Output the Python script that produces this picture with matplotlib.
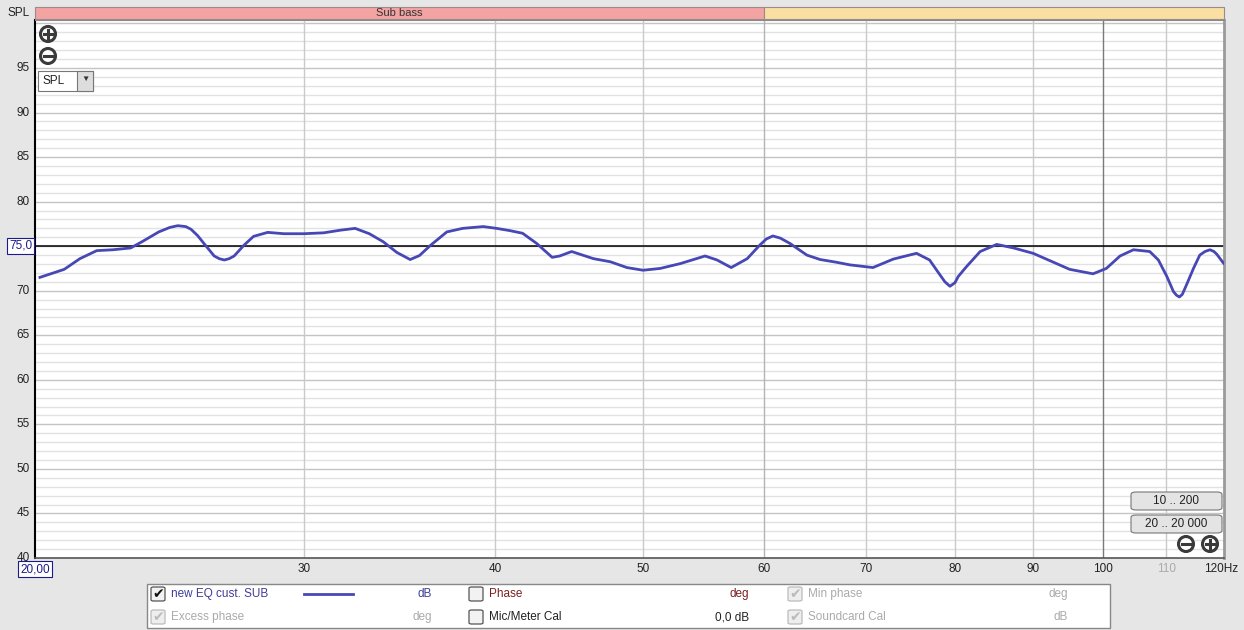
import math
import matplotlib
matplotlib.use("Agg")
import matplotlib.pyplot as plt
from matplotlib.patches import Rectangle, FancyBboxPatch, Ellipse
from matplotlib.ticker import FixedLocator, NullFormatter

# frequency response (Hz, dB SPL)
freq = [20.15, 20.9, 21.4, 21.95, 22.5, 23.1, 23.5, 24.1, 24.5, 24.8,
        25.1, 25.3, 25.55, 25.8, 26.2, 26.4, 26.6, 26.8, 27.0, 27.4,
        27.8, 28.4, 29.1, 30.0, 30.9, 31.7, 32.4, 33.1, 33.8, 34.5,
        35.2, 35.7, 36.3, 37.2, 38.1, 39.3, 40.1, 40.9, 41.7, 42.6,
        43.6, 44.1, 44.9, 46.4, 47.6, 48.8, 50.0, 51.3, 52.9, 54.9,
        55.9, 57.1, 58.5, 59.6, 60.2, 60.8, 61.5, 62.4, 64.0, 65.3,
        66.9, 68.3, 70.7, 72.9, 75.5, 77.0, 78.2, 78.8, 79.4, 80.0,
        80.4, 81.4, 83.1, 85.2, 87.4, 90.0, 92.8, 95.1, 98.5, 100.5,
        102.6, 104.7, 107.3, 108.7, 110.1, 111.2, 111.7, 112.2, 112.7, 113.5,
        114.6, 115.7, 116.6, 117.5, 118.2, 118.7, 119.9]
spl = [71.5, 72.4, 73.6, 74.5, 74.6, 74.8, 75.5, 76.6, 77.1, 77.3,
       77.2, 76.9, 76.2, 75.3, 73.9, 73.6, 73.45, 73.6, 73.9, 75.1,
       76.1, 76.55, 76.4, 76.4, 76.5, 76.8, 77.0, 76.4, 75.5, 74.3,
       73.5, 73.95, 75.1, 76.6, 77.0, 77.2, 77.0, 76.75, 76.45, 75.3,
       73.75, 73.9, 74.4, 73.6, 73.25, 72.6, 72.3, 72.5, 73.05, 73.9,
       73.45, 72.6, 73.6, 75.1, 75.8, 76.15, 75.9, 75.3, 74.0, 73.5,
       73.2, 72.9, 72.6, 73.55, 74.2, 73.45, 71.8, 71.0, 70.5, 70.9,
       71.6, 72.7, 74.4, 75.2, 74.8, 74.2, 73.2, 72.4, 71.9, 72.5,
       73.9, 74.6, 74.4, 73.45, 71.6, 69.9, 69.5, 69.3, 69.6, 70.8,
       72.5, 74.0, 74.4, 74.6, 74.4, 74.1, 73.1]

x_ticks = [30, 40, 50, 60, 70, 80, 90, 100, 110]
y_ticks = [40, 45, 50, 55, 60, 65, 70, 80, 85, 90, 95]
ref_level = 75.0

W, H = 1244, 630
fig = plt.figure(figsize=(W / 100, H / 100), dpi=100, facecolor="#e6e6e6")
plt.rcParams["font.family"] = ["Liberation Sans", "DejaVu Sans"]


def fx(px):
    return px / W


def fy(py):
    return 1 - py / H


# main plot area
L, R, T, B = 35, 1224, 20, 558
ax = fig.add_axes([fx(L), fy(B), fx(R - L), (B - T) / H])
ax.set_facecolor("white")
ax.set_xscale("log")
ax.set_xlim(20, 120)
ax.set_ylim(40, 40 + (B - T) / 8.909)

for y in range(41, 101):
    c = "#c4c4c4" if y % 5 == 0 else "#e2e2e2"
    ax.axhline(y, color=c, lw=1, zorder=1)
for xv in x_ticks:
    c = "#7a7a7a" if xv == 100 else ("#b4b4b4" if xv == 60 else "#cacaca")
    ax.axvline(xv, color=c, lw=1, zorder=1)

ax.axhline(ref_level, color="black", lw=1.1, zorder=2)
ax.plot(freq, spl, color="#4747b5", lw=2.0, zorder=3, solid_joinstyle="round")

ax.xaxis.set_major_locator(FixedLocator([]))
ax.xaxis.set_minor_locator(FixedLocator([]))
ax.xaxis.set_minor_formatter(NullFormatter())
ax.set_yticks([])
ax.spines["top"].set_color("#8a8a8a")
ax.spines["right"].set_color("#9a9a9a")
ax.spines["right"].set_linewidth(2)
ax.spines["left"].set_color("black")
ax.spines["left"].set_linewidth(1.5)
ax.spines["bottom"].set_color("#555555")
ax.spines["bottom"].set_linewidth(1.2)

# y labels
for yv in y_ticks:
    py = B - (yv - 40) * 8.909
    fig.text(fx(30), fy(py), str(yv), ha="right", va="center", fontsize=8.5, color="#222222")
fig.text(fx(30), fy(13), "SPL", ha="right", va="center", fontsize=8.5, color="#222222")
fig.text(fx(32), fy(246), "75,0", ha="right", va="center", fontsize=8.5, color="#1a1a8a",
         bbox=dict(boxstyle="square,pad=0.15", fc="white", ec="#1a1a8a", lw=0.8))

# x labels
for xv in x_ticks + [120]:
    px = L + (R - L) * math.log(xv / 20) / math.log(6)
    lab = "120Hz" if xv == 120 else str(xv)
    col = "#aaaaaa" if xv == 110 else "#222222"
    if xv == 120:
        px = 1221
    fig.text(fx(px), fy(569), lab, ha="center", va="center", fontsize=8.5, color=col)
fig.text(fx(35), fy(569), "20,00", ha="center", va="center", fontsize=8.5, color="#1a1a8a",
         bbox=dict(boxstyle="square,pad=0.15", fc="white", ec="#1a1a8a", lw=0.8))

# band strip on top
band_split = L + (R - L) * math.log(60 / 20) / math.log(6)
fig.add_artist(Rectangle((fx(L), fy(19)), fx(band_split - L), 12 / H,
                         transform=fig.transFigure, fc="#f4a3a3", ec="#9a8a8a", lw=0.8))
fig.add_artist(Rectangle((fx(band_split), fy(19)), fx(R - band_split), 12 / H,
                         transform=fig.transFigure, fc="#f9e0a2", ec="#9a8a8a", lw=0.8))
fig.text(fx((L + band_split) / 2), fy(13), "Sub bass", ha="center", va="center",
         fontsize=8, color="#333333")


def icon(cx, cy, plus):
    # round zoom button drawn with patches
    fig.add_artist(Ellipse((fx(cx), fy(cy)), 15 / W, 15 / H, transform=fig.transFigure,
                           fc="white", ec="#3a3a3a", lw=2.2))
    fig.add_artist(plt.Line2D([fx(cx - 4), fx(cx + 4)], [fy(cy), fy(cy)],
                              transform=fig.transFigure, color="#3a3a3a", lw=2.2))
    if plus:
        fig.add_artist(plt.Line2D([fx(cx), fx(cx)], [fy(cy - 4), fy(cy + 4)],
                                  transform=fig.transFigure, color="#3a3a3a", lw=2.2))


icon(48, 34, True)
icon(48, 56, False)
icon(1186, 544, False)
icon(1210, 544, True)

# SPL dropdown
fig.add_artist(Rectangle((fx(38), fy(91)), fx(55), 20 / H, transform=fig.transFigure,
                         fc="white", ec="#777777", lw=0.8))
fig.add_artist(Rectangle((fx(77), fy(91)), fx(16), 20 / H, transform=fig.transFigure,
                         fc="#dddddd", ec="#777777", lw=0.8))
fig.text(fx(54), fy(81), "SPL", ha="center", va="center", fontsize=8.5, color="#222222")
fig.text(fx(85), fy(79), "\u25bc", ha="center", va="center", fontsize=6, color="#333333")

# range buttons
for (y0, lab) in [(492, "10 .. 200"), (515, "20 .. 20 000")]:
    fig.add_artist(FancyBboxPatch((fx(1131), fy(y0 + 18)), fx(91), 18 / H,
                                  boxstyle="round,pad=0,rounding_size=0.004",
                                  transform=fig.transFigure, fc="#e4e4e4", ec="#777777", lw=0.8))
    fig.text(fx(1176), fy(y0 + 9), lab, ha="center", va="center", fontsize=8.5, color="#222222")

# legend panel
fig.add_artist(Rectangle((fx(147), fy(628)), fx(963), 44 / H, transform=fig.transFigure,
                         fc="white", ec="#888888", lw=1))


def checkbox(px, py, checked, faded):
    ec = "#bbbbbb" if faded else "#555555"
    fc = "#eeeeee" if faded else "#f2f2f2"
    fig.add_artist(FancyBboxPatch((fx(px - 7), fy(py + 7)), fx(14), 14 / H,
                                  boxstyle="round,pad=0,rounding_size=0.002",
                                  transform=fig.transFigure, fc=fc, ec=ec, lw=0.9))
    if checked:
        fig.text(fx(px), fy(py), "\u2714", ha="center", va="center", fontsize=10,
                 color="#bbbbbb" if faded else "#111111", family="DejaVu Sans")


rows = [
    (158, 594, True, False, "new EQ cust. SUB", "#3d3d99", 432, "dB", "#3d3d99"),
    (158, 617, True, True, "Excess phase", "#aaaaaa", 432, "deg", "#aaaaaa"),
    (476, 594, False, False, "Phase", "#7a2020", 749, "deg", "#7a2020"),
    (476, 617, False, False, "Mic/Meter Cal", "#222222", 749, "0,0 dB", "#222222"),
    (795, 594, True, True, "Min phase", "#aaaaaa", 1068, "deg", "#aaaaaa"),
    (795, 617, True, True, "Soundcard Cal", "#aaaaaa", 1068, "dB", "#aaaaaa"),
]
for cx, cy, chk, faded, lab, col, ux, unit, ucol in rows:
    checkbox(cx, cy, chk, faded)
    fig.text(fx(cx + 13), fy(cy), lab, ha="left", va="center", fontsize=8.5, color=col)
    fig.text(fx(ux), fy(cy), unit, ha="right", va="center", fontsize=8.5, color=ucol)

fig.add_artist(plt.Line2D([fx(304), fx(353)], [fy(594), fy(594)], transform=fig.transFigure,
                          color="#4747b5", lw=2))

fig.savefig("out.png", dpi=100, facecolor=fig.get_facecolor())
